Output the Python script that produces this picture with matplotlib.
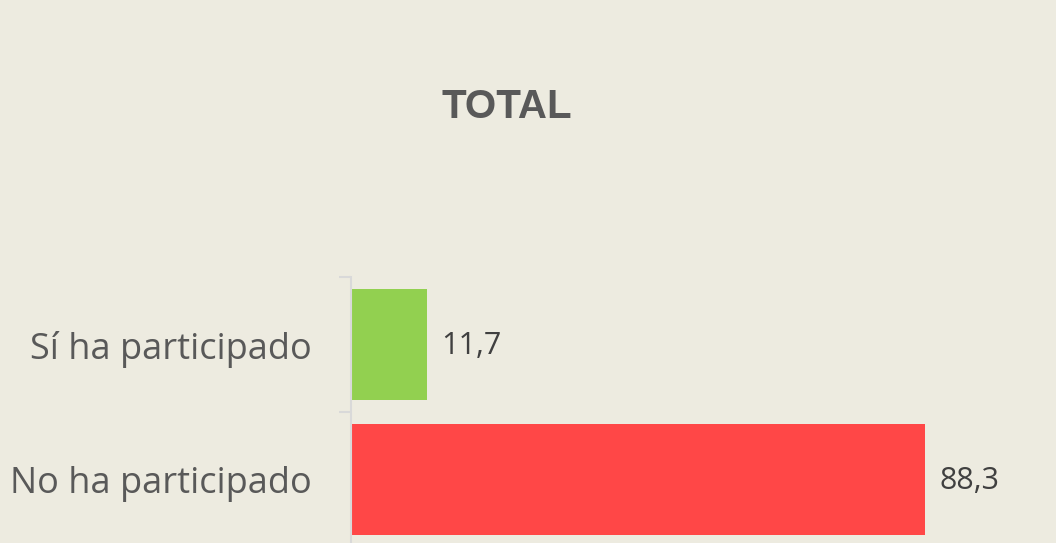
import numpy as np
import matplotlib
matplotlib.use("Agg")
import matplotlib.pyplot as plt

categorias = ["Sí ha participado", "No ha participado"]
valores = [11.7, 88.3]
colores = ["#92D050", "#FF4747"]
etiquetas = ["11,7", "88,3"]

fondo = "#EDEBE0"

fig = plt.figure(figsize=(10.56, 5.43), dpi=100, facecolor=fondo)
ax = fig.add_axes([351 / 1056, -4 / 543, 650 / 1056, 270 / 543])
ax.set_facecolor(fondo)

y = np.arange(len(categorias))
ax.barh(y, valores, height=0.82, color=colores)
ax.set_ylim(1.5, -0.5)
ax.set_xlim(0, 100)

for yi, v, t in zip(y, valores, etiquetas):
    ax.text(v + 2.2, yi + 0.01, t, va="center", ha="left", fontsize=22,
            family="Open Sans", color="#404040")

ax.set_yticks(y)
ax.set_yticklabels(categorias, fontsize=26, family="Open Sans", color="#595959")
ax.set_yticks([-0.5, 0.5, 1.5], minor=True)
ax.tick_params(axis="y", which="major", length=0, pad=28)
ax.tick_params(axis="y", which="minor", length=9, width=1.5, color="#D9D9D9")
ax.set_xticks([])
for s in ["top", "right", "bottom"]:
    ax.spines[s].set_visible(False)
ax.spines["left"].set_color("#D9D9D9")
ax.spines["left"].set_linewidth(1.5)

fig.text(507 / 1056, 1 - 107 / 543, "TOTAL", ha="center", va="center",
         fontsize=29, fontweight="bold", family="Liberation Sans", color="#595959")

fig.savefig("out.png", dpi=100, facecolor=fondo)
